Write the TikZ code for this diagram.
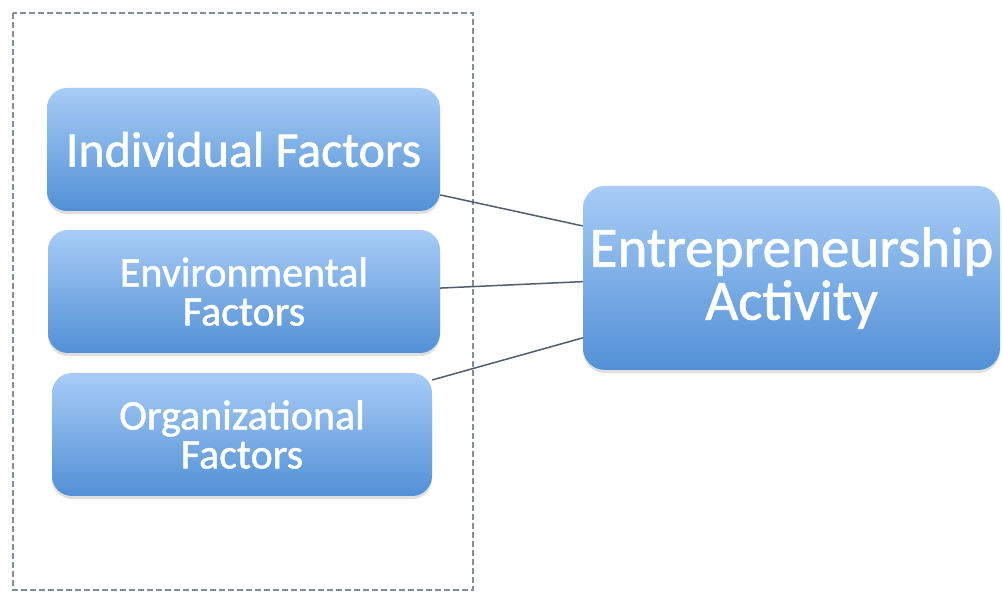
\documentclass[tikz,border=0pt]{standalone}
\usepackage{fontspec}
\setmainfont{Carlito}
\newfontfamily\boxfont{Carlito}[FakeBold=1.2]
\usetikzlibrary{shadows}

\definecolor{boxtop}{RGB}{168,204,246}
\definecolor{boxbot}{RGB}{82,144,214}
\definecolor{linkgray}{RGB}{78,94,110}
\definecolor{framegray}{RGB}{130,142,156}

\tikzset{
  factor/.style={rounded corners=20pt, top color=boxtop, bottom color=boxbot,
    text=white, align=center, inner sep=0pt,
    drop shadow={opacity=0.25, shadow xshift=0pt, shadow yshift=-3pt}},
  link/.style={draw=linkgray, line width=1.5pt},
}

\begin{document}
\begin{tikzpicture}[x=1pt,y=-1pt]
  \useasboundingbox[fill=white] (0,0) rectangle (1002,593);

  %group frame
  \draw[framegray, line width=1.5pt, dash pattern=on 6pt off 3pt] (13,13) rectangle (473,590);

  %factors
  \node[factor, minimum width=393pt, minimum height=123pt,
        font=\boxfont\fontsize{50}{56}\selectfont] (ind) at (243.5,149.5) {Individual Factors};
  \node[factor, minimum width=392pt, minimum height=123pt,
        font=\boxfont\fontsize{42}{39}\selectfont] (env) at (244,291.5) {Environmental\\Factors};
  \node[factor, minimum width=380pt, minimum height=123pt,
        font=\boxfont\fontsize{42}{39}\selectfont] (org) at (242,434.5) {Organizational\\Factors};

  %outcome
  \node[factor, rounded corners=22pt, minimum width=417pt, minimum height=184pt,
        font=\boxfont\fontsize{57}{53}\selectfont] (act) at (791.5,278) {Entrepreneurship\\Activity};

  %links
  \draw[link] (ind.-13) -- (act.166.5);
  \draw[link] (env.1.6) -- (act.181.4);
  \draw[link] (org.16) -- (act.196);
\end{tikzpicture}
\end{document}
